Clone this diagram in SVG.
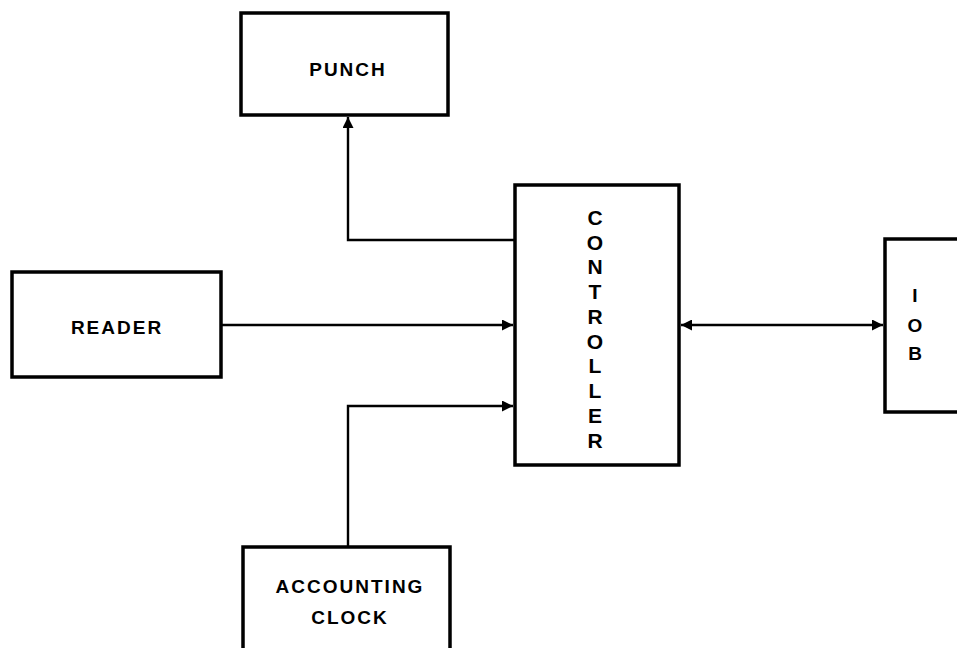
<svg xmlns="http://www.w3.org/2000/svg" width="957" height="648" viewBox="0 0 957 648">
<defs>
<style>
.box{fill:#fff;stroke:#000;stroke-width:3.5}
.lbl{font-family:"Liberation Sans",Arial,sans-serif;font-weight:bold;font-size:19px;letter-spacing:2px;text-anchor:middle;fill:#000}
.v{font-size:21px;letter-spacing:0}
.ln{fill:none;stroke:#000;stroke-width:2.4}
</style>
<marker id="ah" viewBox="0 0 10 10" refX="10" refY="5" markerWidth="16" markerHeight="11" markerUnits="userSpaceOnUse" orient="auto-start-reverse">
<path d="M0,0 L10,5 L0,10 z" fill="#000"/>
</marker>
</defs>
<g id="connectors">
<polyline class="ln" points="514,240 348,240 348,117" marker-end="url(#ah)"/>
<line class="ln" x1="222" y1="325" x2="513" y2="325" marker-end="url(#ah)"/>
<polyline class="ln" points="348,546 348,406 513,406" marker-end="url(#ah)"/>
<line class="ln" x1="681" y1="325" x2="883" y2="325" marker-start="url(#ah)" marker-end="url(#ah)"/>
</g>
<g id="punch">
<rect class="box" x="241" y="13" width="207" height="102"/>
<text class="lbl" x="348" y="76">PUNCH</text>
</g>
<g id="reader">
<rect class="box" x="12" y="272" width="209" height="105"/>
<text class="lbl" x="117" y="334">READER</text>
</g>
<g id="controller">
<rect class="box" x="515" y="185" width="164" height="280"/>
<text class="lbl v" x="595" y="225">C</text>
<text class="lbl v" x="595" y="250">O</text>
<text class="lbl v" x="595" y="274">N</text>
<text class="lbl v" x="595" y="299">T</text>
<text class="lbl v" x="595" y="324">R</text>
<text class="lbl v" x="595" y="349">O</text>
<text class="lbl v" x="595" y="373">L</text>
<text class="lbl v" x="595" y="398">L</text>
<text class="lbl v" x="595" y="423">E</text>
<text class="lbl v" x="595" y="448">R</text>
</g>
<g id="iob">
<rect class="box" x="885" y="239" width="80" height="173"/>
<text class="lbl" x="916" y="302">I</text>
<text class="lbl" x="916" y="332">O</text>
<text class="lbl" x="916" y="360">B</text>
</g>
<g id="accounting-clock">
<rect class="box" x="243" y="547" width="207" height="110"/>
<text class="lbl" x="350" y="593">ACCOUNTING</text>
<text class="lbl" x="350" y="624">CLOCK</text>
</g>
</svg>
